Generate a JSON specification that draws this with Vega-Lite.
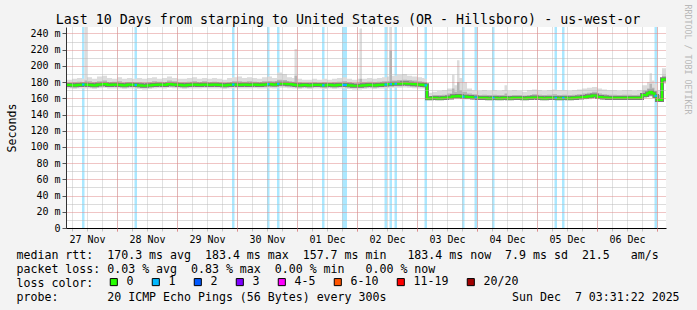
{
  "$schema": "https://vega.github.io/schema/vega-lite/v6.json",
  "width": 600,
  "height": 201,
  "autosize": {"type": "none"},
  "padding": {"left": 66, "top": 27, "right": 31, "bottom": 82},
  "background": "#f3f3f3",
  "view": {"fill": "#ffffff", "stroke": null},
  "title": {
    "text": "Last 10 Days from starping to United States (OR - Hillsboro) - us-west-or",
    "font": "DejaVu Sans Mono", "fontSize": 13.3, "fontWeight": "normal", "color": "#000000",
    "anchor": "middle", "frame": "group", "dx": -18, "dy": 23, "offset": 1
  },
  "config": {
    "font": "DejaVu Sans Mono",
    "axis": {"labelFont": "DejaVu Sans Mono", "titleFont": "DejaVu Sans Mono", "labelColor": "#000000", "titleColor": "#000000", "titleFontWeight": "normal"}
  },
  "datasets": {
    "smoke": [
      {"t": "2025-11-27T02:00:00Z", "m": 176.5, "lo": 172, "hi": 183, "mlo": 174, "mhi": 179.5},
      {"t": "2025-11-27T04:00:00Z", "m": 176.5, "lo": 172, "hi": 183, "mlo": 174, "mhi": 179.5},
      {"t": "2025-11-27T06:00:00Z", "m": 176, "lo": 171.5, "hi": 184, "mlo": 173.5, "mhi": 180},
      {"t": "2025-11-27T08:00:00Z", "m": 176.5, "lo": 172, "hi": 185, "mlo": 174, "mhi": 180.5},
      {"t": "2025-11-27T10:00:00Z", "m": 177, "lo": 172, "hi": 184, "mlo": 174, "mhi": 180},
      {"t": "2025-11-27T11:00:00Z", "m": 177, "lo": 172, "hi": 250, "mlo": 174, "mhi": 182},
      {"t": "2025-11-27T12:00:00Z", "m": 176.5, "lo": 172, "hi": 186, "mlo": 174, "mhi": 181},
      {"t": "2025-11-27T14:00:00Z", "m": 176, "lo": 171.5, "hi": 184, "mlo": 173.5, "mhi": 180},
      {"t": "2025-11-27T16:00:00Z", "m": 177, "lo": 172.5, "hi": 187, "mlo": 174.5, "mhi": 181},
      {"t": "2025-11-27T18:00:00Z", "m": 177.5, "lo": 173, "hi": 188, "mlo": 175, "mhi": 182},
      {"t": "2025-11-27T20:00:00Z", "m": 176.5, "lo": 172, "hi": 185, "mlo": 174, "mhi": 180},
      {"t": "2025-11-27T22:00:00Z", "m": 177, "lo": 172, "hi": 184, "mlo": 174, "mhi": 180.5},
      {"t": "2025-11-28T00:00:00Z", "m": 176.5, "lo": 172, "hi": 186, "mlo": 174, "mhi": 181},
      {"t": "2025-11-28T02:00:00Z", "m": 176, "lo": 171.5, "hi": 184, "mlo": 173.5, "mhi": 179.5},
      {"t": "2025-11-28T04:00:00Z", "m": 177, "lo": 172, "hi": 185, "mlo": 174, "mhi": 180},
      {"t": "2025-11-28T06:00:00Z", "m": 176.5, "lo": 172, "hi": 184, "mlo": 174, "mhi": 180},
      {"t": "2025-11-28T08:00:00Z", "m": 176, "lo": 171.5, "hi": 185, "mlo": 173.5, "mhi": 180},
      {"t": "2025-11-28T10:00:00Z", "m": 175.5, "lo": 171, "hi": 184, "mlo": 173, "mhi": 179.5},
      {"t": "2025-11-28T12:00:00Z", "m": 176, "lo": 171.5, "hi": 185, "mlo": 173.5, "mhi": 180},
      {"t": "2025-11-28T14:00:00Z", "m": 176.5, "lo": 172, "hi": 186, "mlo": 174, "mhi": 181},
      {"t": "2025-11-28T16:00:00Z", "m": 177, "lo": 172.5, "hi": 184, "mlo": 174.5, "mhi": 180.5},
      {"t": "2025-11-28T18:00:00Z", "m": 176.5, "lo": 172, "hi": 185, "mlo": 174, "mhi": 180},
      {"t": "2025-11-28T20:00:00Z", "m": 177.5, "lo": 173, "hi": 187, "mlo": 175, "mhi": 182},
      {"t": "2025-11-28T22:00:00Z", "m": 177, "lo": 172.5, "hi": 185, "mlo": 174.5, "mhi": 181},
      {"t": "2025-11-29T00:00:00Z", "m": 176.5, "lo": 172, "hi": 184, "mlo": 174, "mhi": 180},
      {"t": "2025-11-29T02:00:00Z", "m": 176, "lo": 171.5, "hi": 184, "mlo": 173.5, "mhi": 180},
      {"t": "2025-11-29T04:00:00Z", "m": 176.5, "lo": 172, "hi": 185, "mlo": 174, "mhi": 180.5},
      {"t": "2025-11-29T06:00:00Z", "m": 177, "lo": 172, "hi": 186, "mlo": 174, "mhi": 181},
      {"t": "2025-11-29T08:00:00Z", "m": 176.5, "lo": 172, "hi": 184, "mlo": 174, "mhi": 180},
      {"t": "2025-11-29T10:00:00Z", "m": 177, "lo": 172.5, "hi": 185, "mlo": 174.5, "mhi": 181},
      {"t": "2025-11-29T12:00:00Z", "m": 176.5, "lo": 172, "hi": 184, "mlo": 174, "mhi": 180},
      {"t": "2025-11-29T14:00:00Z", "m": 177, "lo": 172, "hi": 185, "mlo": 174, "mhi": 180.5},
      {"t": "2025-11-29T16:00:00Z", "m": 176.5, "lo": 172, "hi": 184, "mlo": 174, "mhi": 180},
      {"t": "2025-11-29T18:00:00Z", "m": 176, "lo": 171.5, "hi": 183, "mlo": 173.5, "mhi": 179.5},
      {"t": "2025-11-29T20:00:00Z", "m": 176.5, "lo": 172, "hi": 185, "mlo": 174, "mhi": 180},
      {"t": "2025-11-29T22:00:00Z", "m": 177, "lo": 172.5, "hi": 186, "mlo": 174.5, "mhi": 181},
      {"t": "2025-11-30T00:00:00Z", "m": 176.5, "lo": 172, "hi": 187, "mlo": 174, "mhi": 181},
      {"t": "2025-11-30T02:00:00Z", "m": 177, "lo": 172, "hi": 185, "mlo": 174, "mhi": 180.5},
      {"t": "2025-11-30T04:00:00Z", "m": 176.5, "lo": 172, "hi": 186, "mlo": 174, "mhi": 181},
      {"t": "2025-11-30T06:00:00Z", "m": 177, "lo": 172.5, "hi": 185, "mlo": 174.5, "mhi": 180.5},
      {"t": "2025-11-30T08:00:00Z", "m": 176.5, "lo": 172, "hi": 184, "mlo": 174, "mhi": 180},
      {"t": "2025-11-30T10:00:00Z", "m": 177, "lo": 172, "hi": 186, "mlo": 174, "mhi": 181},
      {"t": "2025-11-30T12:00:00Z", "m": 177.5, "lo": 172.5, "hi": 187, "mlo": 174.5, "mhi": 181.5},
      {"t": "2025-11-30T14:00:00Z", "m": 177, "lo": 172, "hi": 185, "mlo": 174, "mhi": 181},
      {"t": "2025-11-30T16:00:00Z", "m": 178, "lo": 173, "hi": 192, "mlo": 175, "mhi": 183},
      {"t": "2025-11-30T18:00:00Z", "m": 178, "lo": 173, "hi": 190, "mlo": 175, "mhi": 182.5},
      {"t": "2025-11-30T20:00:00Z", "m": 177.5, "lo": 172.5, "hi": 186, "mlo": 174.5, "mhi": 181},
      {"t": "2025-11-30T22:00:00Z", "m": 177, "lo": 172, "hi": 185, "mlo": 174, "mhi": 180.5},
      {"t": "2025-11-30T23:00:00Z", "m": 176.5, "lo": 172, "hi": 221, "mlo": 174, "mhi": 188},
      {"t": "2025-12-01T00:00:00Z", "m": 176, "lo": 171.5, "hi": 184, "mlo": 173.5, "mhi": 180},
      {"t": "2025-12-01T02:00:00Z", "m": 176.5, "lo": 172, "hi": 183, "mlo": 174, "mhi": 179.5},
      {"t": "2025-12-01T04:00:00Z", "m": 176, "lo": 171.5, "hi": 183, "mlo": 173.5, "mhi": 179.5},
      {"t": "2025-12-01T06:00:00Z", "m": 176.5, "lo": 172, "hi": 184, "mlo": 174, "mhi": 180},
      {"t": "2025-12-01T08:00:00Z", "m": 176.5, "lo": 172, "hi": 183, "mlo": 174, "mhi": 179.5},
      {"t": "2025-12-01T10:00:00Z", "m": 176, "lo": 171.5, "hi": 184, "mlo": 173.5, "mhi": 180},
      {"t": "2025-12-01T12:00:00Z", "m": 176.5, "lo": 172, "hi": 183, "mlo": 174, "mhi": 179.5},
      {"t": "2025-12-01T14:00:00Z", "m": 176, "lo": 171.5, "hi": 184, "mlo": 173.5, "mhi": 180},
      {"t": "2025-12-01T16:00:00Z", "m": 176.5, "lo": 172, "hi": 185, "mlo": 174, "mhi": 180.5},
      {"t": "2025-12-01T18:00:00Z", "m": 176.5, "lo": 172, "hi": 186, "mlo": 174, "mhi": 181},
      {"t": "2025-12-01T20:00:00Z", "m": 176, "lo": 171.5, "hi": 184, "mlo": 173.5, "mhi": 180},
      {"t": "2025-12-01T22:00:00Z", "m": 175.5, "lo": 171, "hi": 183, "mlo": 173, "mhi": 179},
      {"t": "2025-12-02T00:00:00Z", "m": 175.5, "lo": 171, "hi": 184, "mlo": 173, "mhi": 179.5},
      {"t": "2025-12-02T01:00:00Z", "m": 175.5, "lo": 171, "hi": 246, "mlo": 173, "mhi": 184},
      {"t": "2025-12-02T02:00:00Z", "m": 176, "lo": 171.5, "hi": 184, "mlo": 173.5, "mhi": 180},
      {"t": "2025-12-02T04:00:00Z", "m": 176.5, "lo": 172, "hi": 185, "mlo": 174, "mhi": 180.5},
      {"t": "2025-12-02T06:00:00Z", "m": 176, "lo": 171.5, "hi": 184, "mlo": 173.5, "mhi": 180},
      {"t": "2025-12-02T08:00:00Z", "m": 176.5, "lo": 172, "hi": 185, "mlo": 174, "mhi": 180.5},
      {"t": "2025-12-02T10:00:00Z", "m": 177, "lo": 172, "hi": 186, "mlo": 174, "mhi": 181},
      {"t": "2025-12-02T12:00:00Z", "m": 177.5, "lo": 172.5, "hi": 187, "mlo": 174.5, "mhi": 181.5},
      {"t": "2025-12-02T13:00:00Z", "m": 177.5, "lo": 172.5, "hi": 250, "mlo": 175, "mhi": 219},
      {"t": "2025-12-02T14:00:00Z", "m": 178, "lo": 173, "hi": 188, "mlo": 175, "mhi": 182},
      {"t": "2025-12-02T16:00:00Z", "m": 178, "lo": 173, "hi": 189, "mlo": 175, "mhi": 182.5},
      {"t": "2025-12-02T18:00:00Z", "m": 178.5, "lo": 173.5, "hi": 190, "mlo": 175.5, "mhi": 183},
      {"t": "2025-12-02T20:00:00Z", "m": 178, "lo": 173, "hi": 188, "mlo": 175, "mhi": 182.5},
      {"t": "2025-12-02T22:00:00Z", "m": 177.5, "lo": 172.5, "hi": 187, "mlo": 174.5, "mhi": 182},
      {"t": "2025-12-03T00:00:00Z", "m": 177, "lo": 172, "hi": 186, "mlo": 174, "mhi": 181},
      {"t": "2025-12-03T02:00:00Z", "m": 176.5, "lo": 172, "hi": 185, "mlo": 174, "mhi": 180.5},
      {"t": "2025-12-03T03:00:00Z", "m": 176, "lo": 171.5, "hi": 184, "mlo": 173.5, "mhi": 180},
      {"t": "2025-12-03T04:00:00Z", "m": 160, "lo": 157.5, "hi": 167, "mlo": 158.5, "mhi": 163},
      {"t": "2025-12-03T06:00:00Z", "m": 160.5, "lo": 158, "hi": 168, "mlo": 159, "mhi": 164},
      {"t": "2025-12-03T08:00:00Z", "m": 160, "lo": 157.5, "hi": 169, "mlo": 158.5, "mhi": 164},
      {"t": "2025-12-03T10:00:00Z", "m": 160.5, "lo": 158, "hi": 170, "mlo": 159, "mhi": 164.5},
      {"t": "2025-12-03T12:00:00Z", "m": 161, "lo": 158.5, "hi": 172, "mlo": 159.5, "mhi": 166},
      {"t": "2025-12-03T14:00:00Z", "m": 162.5, "lo": 159, "hi": 189, "mlo": 160, "mhi": 172},
      {"t": "2025-12-03T15:00:00Z", "m": 162.5, "lo": 159, "hi": 176, "mlo": 160, "mhi": 168},
      {"t": "2025-12-03T16:00:00Z", "m": 163, "lo": 159, "hi": 207, "mlo": 160, "mhi": 180},
      {"t": "2025-12-03T17:00:00Z", "m": 162.5, "lo": 159, "hi": 185, "mlo": 160, "mhi": 170},
      {"t": "2025-12-03T18:00:00Z", "m": 162, "lo": 158.5, "hi": 180, "mlo": 159.5, "mhi": 168},
      {"t": "2025-12-03T20:00:00Z", "m": 161.5, "lo": 158.5, "hi": 172, "mlo": 159.5, "mhi": 166},
      {"t": "2025-12-03T22:00:00Z", "m": 161, "lo": 158, "hi": 170, "mlo": 159, "mhi": 165},
      {"t": "2025-12-04T00:00:00Z", "m": 160.5, "lo": 158, "hi": 169, "mlo": 159, "mhi": 164},
      {"t": "2025-12-04T02:00:00Z", "m": 160.5, "lo": 158, "hi": 170, "mlo": 159, "mhi": 164.5},
      {"t": "2025-12-04T04:00:00Z", "m": 160, "lo": 157.5, "hi": 169, "mlo": 158.5, "mhi": 164},
      {"t": "2025-12-04T06:00:00Z", "m": 160.5, "lo": 158, "hi": 170, "mlo": 159, "mhi": 164.5},
      {"t": "2025-12-04T08:00:00Z", "m": 160, "lo": 157.5, "hi": 169, "mlo": 158.5, "mhi": 164},
      {"t": "2025-12-04T10:00:00Z", "m": 160.5, "lo": 158, "hi": 170, "mlo": 159, "mhi": 164},
      {"t": "2025-12-04T11:00:00Z", "m": 160.5, "lo": 158, "hi": 176, "mlo": 159, "mhi": 166},
      {"t": "2025-12-04T12:00:00Z", "m": 160, "lo": 157.5, "hi": 169, "mlo": 158.5, "mhi": 163.5},
      {"t": "2025-12-04T14:00:00Z", "m": 160.5, "lo": 158, "hi": 170, "mlo": 159, "mhi": 164},
      {"t": "2025-12-04T16:00:00Z", "m": 160.5, "lo": 158, "hi": 169, "mlo": 159, "mhi": 164},
      {"t": "2025-12-04T18:00:00Z", "m": 160, "lo": 157.5, "hi": 168, "mlo": 158.5, "mhi": 163.5},
      {"t": "2025-12-04T20:00:00Z", "m": 160.5, "lo": 158, "hi": 170, "mlo": 159, "mhi": 164},
      {"t": "2025-12-04T22:00:00Z", "m": 161, "lo": 158, "hi": 171, "mlo": 159, "mhi": 165},
      {"t": "2025-12-05T00:00:00Z", "m": 160.5, "lo": 158, "hi": 170, "mlo": 159, "mhi": 164.5},
      {"t": "2025-12-05T02:00:00Z", "m": 160, "lo": 157.5, "hi": 169, "mlo": 158.5, "mhi": 164},
      {"t": "2025-12-05T04:00:00Z", "m": 160.5, "lo": 158, "hi": 170, "mlo": 159, "mhi": 164.5},
      {"t": "2025-12-05T06:00:00Z", "m": 160.5, "lo": 158, "hi": 171, "mlo": 159, "mhi": 165},
      {"t": "2025-12-05T08:00:00Z", "m": 160, "lo": 157.5, "hi": 170, "mlo": 158.5, "mhi": 164},
      {"t": "2025-12-05T10:00:00Z", "m": 160.5, "lo": 158, "hi": 170, "mlo": 159, "mhi": 164.5},
      {"t": "2025-12-05T12:00:00Z", "m": 160, "lo": 157.5, "hi": 169, "mlo": 158.5, "mhi": 164},
      {"t": "2025-12-05T14:00:00Z", "m": 160.5, "lo": 158, "hi": 170, "mlo": 159, "mhi": 164.5},
      {"t": "2025-12-05T16:00:00Z", "m": 161, "lo": 158.5, "hi": 171, "mlo": 159.5, "mhi": 165},
      {"t": "2025-12-05T18:00:00Z", "m": 161.5, "lo": 158.5, "hi": 172, "mlo": 159.5, "mhi": 166},
      {"t": "2025-12-05T20:00:00Z", "m": 162.5, "lo": 159, "hi": 173, "mlo": 160, "mhi": 167},
      {"t": "2025-12-05T22:00:00Z", "m": 163.5, "lo": 160, "hi": 174, "mlo": 161, "mhi": 168},
      {"t": "2025-12-06T00:00:00Z", "m": 161.5, "lo": 158.5, "hi": 172, "mlo": 159.5, "mhi": 166},
      {"t": "2025-12-06T02:00:00Z", "m": 161, "lo": 158, "hi": 171, "mlo": 159, "mhi": 165},
      {"t": "2025-12-06T04:00:00Z", "m": 160.5, "lo": 158, "hi": 170, "mlo": 159, "mhi": 164.5},
      {"t": "2025-12-06T06:00:00Z", "m": 160.5, "lo": 158, "hi": 170, "mlo": 159, "mhi": 164.5},
      {"t": "2025-12-06T08:00:00Z", "m": 160.5, "lo": 158, "hi": 169, "mlo": 159, "mhi": 164},
      {"t": "2025-12-06T10:00:00Z", "m": 160.5, "lo": 158, "hi": 170, "mlo": 159, "mhi": 164.5},
      {"t": "2025-12-06T12:00:00Z", "m": 160.5, "lo": 158, "hi": 170, "mlo": 159, "mhi": 164.5},
      {"t": "2025-12-06T14:00:00Z", "m": 160.5, "lo": 158, "hi": 169, "mlo": 159, "mhi": 164},
      {"t": "2025-12-06T16:00:00Z", "m": 160.5, "lo": 158, "hi": 170, "mlo": 159, "mhi": 164.5},
      {"t": "2025-12-06T18:00:00Z", "m": 164, "lo": 160, "hi": 176, "mlo": 161, "mhi": 170},
      {"t": "2025-12-06T20:00:00Z", "m": 166, "lo": 161, "hi": 180, "mlo": 162, "mhi": 172},
      {"t": "2025-12-06T21:00:00Z", "m": 168, "lo": 162, "hi": 191, "mlo": 163, "mhi": 178},
      {"t": "2025-12-06T22:00:00Z", "m": 166, "lo": 161, "hi": 182, "mlo": 162, "mhi": 173},
      {"t": "2025-12-06T23:00:00Z", "m": 163, "lo": 159, "hi": 178, "mlo": 160, "mhi": 169},
      {"t": "2025-12-07T00:00:00Z", "m": 158, "lo": 156, "hi": 170, "mlo": 157, "mhi": 164},
      {"t": "2025-12-07T02:00:00Z", "m": 183.4, "lo": 178, "hi": 197, "mlo": 180, "mhi": 188},
      {"t": "2025-12-07T04:00:00Z", "m": 183.4, "lo": 178, "hi": 197, "mlo": 180, "mhi": 188}
    ],
    "loss": [
      {"t0": "2025-11-27T10:00:00Z", "t1": "2025-11-27T11:00:00Z", "loss": "1", "m": 177},
      {"t0": "2025-11-28T07:00:00Z", "t1": "2025-11-28T08:00:00Z", "loss": "1", "m": 176.5},
      {"t0": "2025-11-29T22:00:00Z", "t1": "2025-11-29T23:00:00Z", "loss": "1", "m": 177},
      {"t0": "2025-11-30T12:00:00Z", "t1": "2025-11-30T13:00:00Z", "loss": "1", "m": 177.5},
      {"t0": "2025-11-30T16:00:00Z", "t1": "2025-11-30T17:00:00Z", "loss": "1", "m": 178},
      {"t0": "2025-12-01T10:00:00Z", "t1": "2025-12-01T11:00:00Z", "loss": "1", "m": 176},
      {"t0": "2025-12-01T18:00:00Z", "t1": "2025-12-01T20:00:00Z", "loss": "1", "m": 176.5},
      {"t0": "2025-12-02T11:00:00Z", "t1": "2025-12-02T12:00:00Z", "loss": "1", "m": 177},
      {"t0": "2025-12-02T13:00:00Z", "t1": "2025-12-02T14:00:00Z", "loss": "1", "m": 177.5},
      {"t0": "2025-12-02T15:00:00Z", "t1": "2025-12-02T16:00:00Z", "loss": "1", "m": 178},
      {"t0": "2025-12-03T03:00:00Z", "t1": "2025-12-03T04:00:00Z", "loss": "1", "m": 176},
      {"t0": "2025-12-03T18:00:00Z", "t1": "2025-12-03T19:00:00Z", "loss": "1", "m": 162},
      {"t0": "2025-12-03T23:00:00Z", "t1": "2025-12-04T00:00:00Z", "loss": "1", "m": 161},
      {"t0": "2025-12-04T06:00:00Z", "t1": "2025-12-04T07:00:00Z", "loss": "1", "m": 160.5},
      {"t0": "2025-12-05T07:00:00Z", "t1": "2025-12-05T08:00:00Z", "loss": "1", "m": 160.5},
      {"t0": "2025-12-05T10:00:00Z", "t1": "2025-12-05T11:00:00Z", "loss": "1", "m": 160.5},
      {"t0": "2025-12-06T23:00:00Z", "t1": "2025-12-07T00:00:00Z", "loss": "1", "m": 163}
    ]
  },
  "resolve": {"axis": {"x": "independent", "y": "independent"}},
  "layer": [
    {
      "data": {"name": "loss"},
      "mark": {"type": "rect", "opacity": 0.33},
      "encoding": {
        "x": {
          "field": "t0", "type": "temporal",
          "scale": {"type": "utc", "domain": [{"year": 2025, "month": 11, "date": 27, "hours": 3, "minutes": 36, "seconds": 0, "utc": true}, {"year": 2025, "month": 12, "date": 7, "hours": 3, "minutes": 36, "seconds": 0, "utc": true}], "nice": false},
          "axis": {
            "orient": "bottom",
            "title": [
              "median rtt:\u00a0\u00a0170.3 ms avg\u00a0\u00a0183.4 ms max\u00a0\u00a0157.7 ms min\u00a0\u00a0\u00a0183.4 ms now\u00a0\u00a07.9 ms sd\u00a0\u00a021.5\u00a0\u00a0\u00a0am/s",
              "packet loss: 0.03 % avg\u00a0\u00a00.83 % max\u00a0\u00a00.00 % min\u00a0\u00a0\u00a00.00 % now",
              "loss color:",
              "probe:\u00a0\u00a0\u00a0\u00a0\u00a0\u00a0\u00a020 ICMP Echo Pings (56 Bytes) every 300s\u00a0\u00a0\u00a0\u00a0\u00a0\u00a0\u00a0\u00a0\u00a0\u00a0\u00a0\u00a0\u00a0\u00a0\u00a0\u00a0\u00a0\u00a0Sun Dec\u00a0\u00a07 03:31:22 2025"
            ],
            "titleFontSize": 11.6, "titleAlign": "left", "titleAnchor": "start",
            "titleX": -50, "titleY": 30.5, "titleBaseline": "alphabetic", "titleLineHeight": 14,
            "tickCount": 40,
            "grid": true,
            "gridColor": "#c2c2c2",
            "gridDash": [1, 1],
            "tickSize": 3,
            "tickColor": "#c2c2c2",
            "labelExpr": "utchours(datum.value) === 12 ? utcFormat(datum.value, '%d %b') : ''",
            "labelFontSize": 10, "labelPadding": 3, "labelOverlap": false, "labelFlush": false, "labelBound": false,
            "domainColor": "#000000", "zindex": 1
          }
        },
        "x2": {"field": "t1"},
        "color": {
          "field": "loss", "type": "nominal",
          "scale": {"domain": ["0", "1", "2", "3", "4-5", "6-10", "11-19", "20/20"], "range": ["#26ff00", "#00b8ff", "#0059ff", "#7e00ff", "#ff00ff", "#ff5500", "#ff0000", "#a10000"]},
          "legend": {
            "orient": "none", "legendX": 42, "legendY": 249, "direction": "horizontal", "title": null,
            "symbolType": "square", "symbolSize": 50, "symbolStrokeColor": "#000000", "symbolStrokeWidth": 1, "symbolOpacity": 1,
            "labelFont": "DejaVu Sans Mono", "labelFontSize": 11.6, "labelColor": "#000000", "labelOffset": 7, "columnPadding": 16, "padding": 0
          }
        }
      }
    },
    {
      "data": {"name": "smoke"},
      "mark": {"type": "area", "interpolate": "step-after", "color": "#dcdcdc", "clip": true},
      "encoding": {
        "x": {
          "field": "t", "type": "temporal",
          "axis": {
            "orient": "bottom", "tickCount": 10, "grid": true, "gridColor": "#e08a8a", "gridDash": [1, 1],
            "labels": false, "ticks": true, "tickColor": "#e08a8a", "tickSize": 3, "domain": false, "title": null, "zindex": 1
          }
        },
        "y": {
          "field": "lo", "type": "quantitative",
          "scale": {"domain": [0, 248], "nice": false, "zero": false},
          "axis": {
            "values": [0, 10, 20, 30, 40, 50, 60, 70, 80, 90, 100, 110, 120, 130, 140, 150, 160, 170, 180, 190, 200, 210, 220, 230, 240],
            "tickCount": 25,
            "grid": true,
            "gridColor": {"condition": {"test": "datum.value % 20 === 0", "value": "#e08a8a"}, "value": "#b8b8b8"},
            "gridDash": [1, 1],
            "labelExpr": "datum.value === 0 ? '0' : (datum.value % 20 === 0 ? datum.value + ' m' : '')",
            "labelOverlap": false,
            "tickSize": 4,
            "tickColor": {"condition": {"test": "datum.value % 20 === 0", "value": "#555555"}, "value": "rgba(0,0,0,0)"},
            "labelFontSize": 10, "labelPadding": 2,
            "domainColor": "#333333",
            "title": "Seconds", "titleFontSize": 11.6, "titleX": -54, "titleY": 100.5, "titleAngle": 270,
            "titleAlign": "center", "titleBaseline": "middle",
            "zindex": 1
          }
        },
        "y2": {"field": "hi"}
      }
    },
    {
      "data": {"name": "smoke"},
      "mark": {"type": "area", "interpolate": "step-after", "color": "#b4b4b4", "clip": true},
      "encoding": {
        "x": {"field": "t", "type": "temporal", "axis": null},
        "y": {"field": "mlo", "type": "quantitative", "axis": null},
        "y2": {"field": "mhi"}
      }
    },
    {
      "data": {"name": "smoke"},
      "mark": {"type": "line", "interpolate": "step-after", "color": "#7a7a7a", "strokeWidth": 4, "clip": true},
      "encoding": {
        "x": {"field": "t", "type": "temporal", "axis": null},
        "y": {"field": "m", "type": "quantitative", "axis": null}
      }
    },
    {
      "data": {"name": "smoke"},
      "mark": {"type": "line", "interpolate": "step-after", "color": "#26ff00", "strokeWidth": 2.2, "clip": true},
      "encoding": {
        "x": {"field": "t", "type": "temporal", "axis": null},
        "y": {
          "field": "m", "type": "quantitative",
          "axis": {
            "orient": "right", "title": "RRDTOOL / TOBI OETIKER", "labels": false, "ticks": false, "domain": false, "grid": false,
            "titleColor": "#b8b8b8", "titleFontSize": 8.3, "titleFont": "DejaVu Sans Mono", "titleAngle": 90,
            "titleX": 20.5, "titleY": 32, "titleAlign": "center", "titleBaseline": "middle"
          }
        }
      }
    },
    {
      "data": {"name": "loss"},
      "mark": {"type": "rule", "color": "#00b8ff", "strokeWidth": 2.2},
      "encoding": {
        "x": {"field": "t0", "type": "temporal", "axis": null},
        "x2": {"field": "t1"},
        "y": {"field": "m", "type": "quantitative", "axis": null}
      }
    }
  ]
}
